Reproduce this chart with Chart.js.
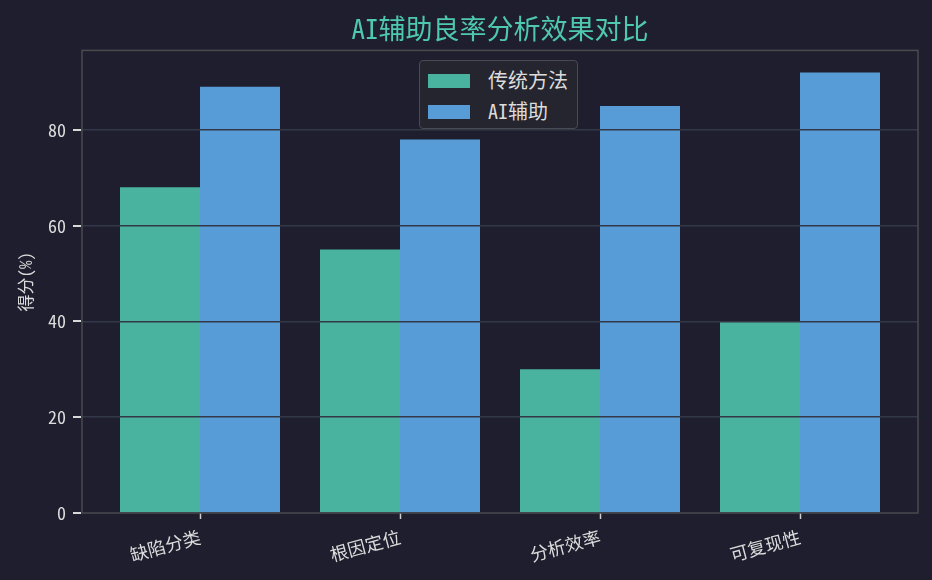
<!DOCTYPE html>
<html>
<head>
<meta charset="utf-8">
<script src="https://cdn.jsdelivr.net/npm/chart.js@4.4.1/dist/chart.umd.min.js"></script>
<style>
  html, body { margin: 0; padding: 0; background: #1f1e2e; }
  #wrap { position: relative; width: 932px; height: 580px; }
  #legend {
    position: absolute; left: 419px; top: 60px; width: 157px; height: 67px;
    background: #25252f; border: 1.5px solid #4a4a52; border-radius: 4px;
    font-family: "Noto Sans Mono CJK SC", "Noto Sans CJK SC", "Noto Sans", sans-serif; font-size: 20px; color: #dcdcdc;
  }
  .item { position: absolute; left: 8px; height: 24px; line-height: 24px; }
  .item span.box { position: absolute; left: 0; top: 5px; width: 42px; height: 14px; }
  .item span.txt { position: absolute; left: 60px; top: -1px; white-space: nowrap; }
</style>
</head>
<body>
<div id="wrap">
  <canvas id="grafico" width="932" height="580"></canvas>
  <div id="legend"></div>
</div>
<script>
const categorias = ['缺陷分类', '根因定位', '分析效率', '可复现性'];
const tradicional = [68, 55, 30, 40];
const asistido = [89, 78, 85, 92];
const ticksY = [0, 20, 40, 60, 80];
const nombres = ['传统方法', 'AI辅助'];
const colores = ['#4ab39f', '#579cd6'];

const fuente = '"Noto Sans Mono CJK SC", "Noto Sans CJK SC", "Noto Sans", sans-serif';

// marco del área de gráfico (spines) y marcas del eje y
const marco = {
  id: 'marco',
  afterDraw(chart) {
    const a = chart.chartArea;
    const c = chart.ctx;
    const y = chart.scales.y;
    c.save();
    c.strokeStyle = '#d8d8d8';
    c.lineWidth = 2;
    y.ticks.forEach(t => {
      const py = Math.round(y.getPixelForValue(t.value));
      c.beginPath();
      c.moveTo(a.left - 9, py);
      c.lineTo(a.left - 1, py);
      c.stroke();
    });
    c.strokeStyle = '#4a4a4f';
    c.lineWidth = 1.5;
    c.strokeRect(a.left, a.top, a.right - a.left, a.bottom - a.top);
    c.restore();
  }
};

const ctx = document.getElementById('grafico').getContext('2d');
const grafico = new Chart(ctx, {
  type: 'bar',
  data: {
    datasets: [
      {
        label: nombres[0],
        data: tradicional.map((v, i) => ({ x: i, y: v })),
        backgroundColor: colores[0],
        borderWidth: 0
      },
      {
        label: nombres[1],
        data: asistido.map((v, i) => ({ x: i, y: v })),
        backgroundColor: colores[1],
        borderWidth: 0
      }
    ]
  },
  options: {
    responsive: false,
    animation: false,
    layout: { padding: { left: 0, right: 14, top: 0, bottom: 0 } },
    datasets: { bar: { categoryPercentage: 0.8, barPercentage: 1.0 } },
    plugins: {
      legend: { display: false },
      tooltip: { enabled: false },
      title: {
        display: true,
        fullSize: false,
        text: 'AI辅助良率分析效果对比',
        color: '#4ec9b0',
        font: { family: fuente, size: 27, weight: 'normal' },
        padding: { top: 13, bottom: 5 }
      }
    },
    scales: {
      x: {
        type: 'linear',
        min: -0.59,
        max: 3.59,
        offset: false,
        afterBuildTicks(scale) {
          scale.ticks = categorias.map((_, i) => ({ value: i }));
        },
        afterFit(scale) { scale.height = 67; },
        ticks: {
          callback: (v) => categorias[v],
          color: '#dcdcdc',
          font: { family: fuente, size: 18 },
          minRotation: 15,
          maxRotation: 15,
          autoSkip: false,
          padding: 7
        },
        grid: { offset: false, drawOnChartArea: false, tickLength: 6, tickColor: '#cccccc', tickWidth: 1.5 },
        border: { display: false }
      },
      y: {
        min: 0,
        max: 96.6,
        afterBuildTicks(scale) {
          scale.ticks = ticksY.map(v => ({ value: v }));
        },
        afterFit(scale) { scale.width = 82; },
        ticks: {
          color: '#dcdcdc',
          font: { family: fuente, size: 18 },
          padding: 12
        },
        grid: {
          z: 1,
          color: (c) => c.tick && c.tick.value === 0 ? 'rgba(0,0,0,0)' : '#323847',
          lineWidth: 1.6,
          drawTicks: true,
          tickLength: 4,
          tickColor: 'rgba(0,0,0,0)'
        },
        border: { display: false },
        title: {
          display: true,
          text: '得分(%)',
          color: '#dcdcdc',
          font: { family: fuente, size: 17 },
          padding: { top: 15, bottom: 0 }
        }
      }
    }
  },
  plugins: [marco]
});

// leyenda dentro del área, como en el original
const leyenda = document.getElementById('legend');
grafico.data.datasets.forEach((ds, i) => {
  const item = document.createElement('div');
  item.className = 'item';
  item.style.top = (8 + i * 31) + 'px';
  item.innerHTML = '<span class="box" style="background:' + ds.backgroundColor + '"></span><span class="txt">' + ds.label + '</span>';
  leyenda.appendChild(item);
});
</script>
</body>
</html>
